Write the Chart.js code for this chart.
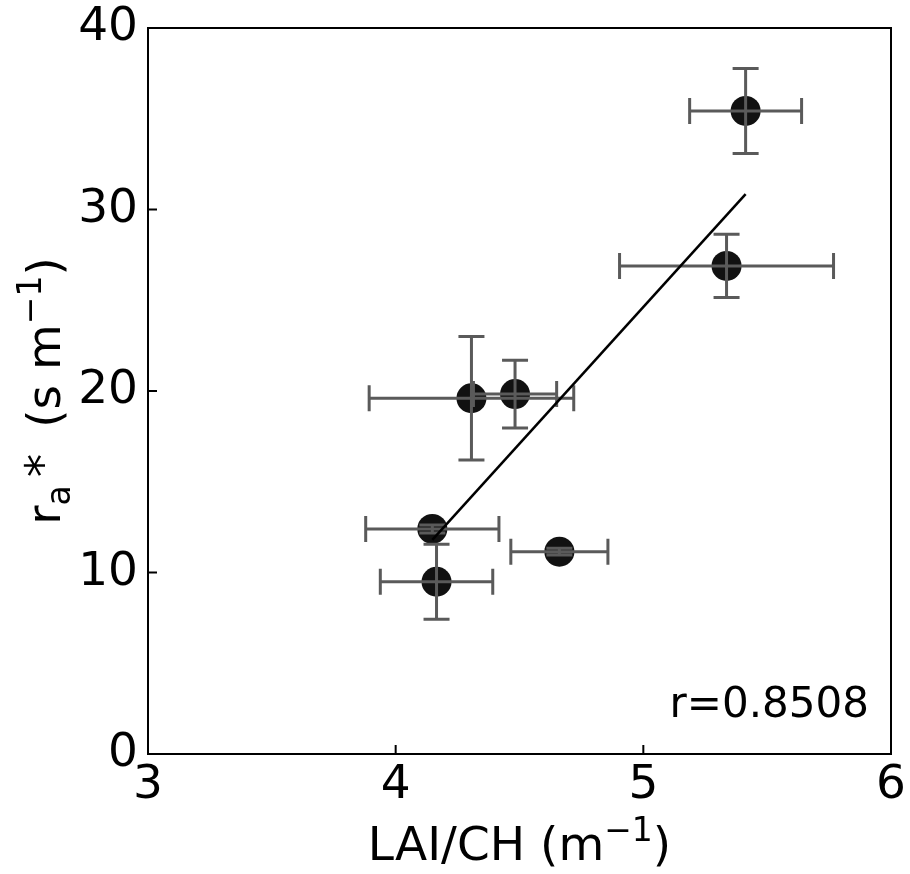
<!DOCTYPE html>
<html lang="en">

<head>
    <meta charset="UTF-8">
    <title>ra* vs LAI/CH</title>
    <script src="https://cdn.jsdelivr.net/npm/chart.js"></script>
    <style>
        body {
            margin: 0;
            background: #fff;
        }

        #wrap {
            width: 910px;
            height: 874px;
        }
    </style>
</head>

<body>
    <div id="wrap">
        <canvas id="scatterChart" width="910" height="874"></canvas>
    </div>

    <script>
        // Values
        const laiCh = [5.413, 5.336, 4.306, 4.482, 4.148, 4.661, 4.165];
        const raStar = [35.43, 26.89, 19.60, 19.83, 12.40, 11.15, 9.49];
        const laiChErr = [0.226, 0.432, 0.413, 0.168, 0.269, 0.196, 0.227];
        const raStarErr = [2.34, 1.74, 3.40, 1.87, 0.22, 0.18, 2.07];

        // regression line end points
        const fitX = [4.148, 5.413];
        const fitY = [11.8, 30.85];

        const xTicks = [3, 4, 5, 6];
        const yTicks = [0, 10, 20, 30, 40];
        const corrText = 'r=0.8508';

        const FONT = '"DejaVu Sans", sans-serif';
        const FS = 47;

        // error bars, inward ticks, frame and labels
        const decorPlugin = {
            id: 'decor',
            afterDatasetDraw(chart, args) {
                if (args.index !== 0) return;
                const ctx = chart.ctx;
                const xs = chart.scales.x, ys = chart.scales.y;
                ctx.save();
                ctx.strokeStyle = '#5a5a5a';
                ctx.lineWidth = 3;
                const cap = 13;
                laiCh.forEach(function (xv, i) {
                    const px = xs.getPixelForValue(xv);
                    const py = ys.getPixelForValue(raStar[i]);
                    const x0 = xs.getPixelForValue(xv - laiChErr[i]);
                    const x1 = xs.getPixelForValue(xv + laiChErr[i]);
                    const y0 = ys.getPixelForValue(raStar[i] - raStarErr[i]);
                    const y1 = ys.getPixelForValue(raStar[i] + raStarErr[i]);
                    ctx.beginPath();
                    ctx.moveTo(x0, py); ctx.lineTo(x1, py);
                    ctx.moveTo(x0, py - cap); ctx.lineTo(x0, py + cap);
                    ctx.moveTo(x1, py - cap); ctx.lineTo(x1, py + cap);
                    ctx.moveTo(px, y0); ctx.lineTo(px, y1);
                    ctx.moveTo(px - cap, y0); ctx.lineTo(px + cap, y0);
                    ctx.moveTo(px - cap, y1); ctx.lineTo(px + cap, y1);
                    ctx.stroke();
                });
                ctx.restore();
            },
            afterDraw(chart) {
                const ctx = chart.ctx;
                const a = chart.chartArea;
                const xs = chart.scales.x, ys = chart.scales.y;
                ctx.save();
                ctx.strokeStyle = '#000';
                ctx.lineWidth = 2;
                ctx.strokeRect(a.left, a.top, a.right - a.left, a.bottom - a.top);

                // inward ticks
                ctx.beginPath();
                xTicks.forEach(function (v) {
                    const p = xs.getPixelForValue(v);
                    ctx.moveTo(p, a.bottom); ctx.lineTo(p, a.bottom - 9);
                });
                yTicks.forEach(function (v) {
                    const p = ys.getPixelForValue(v);
                    ctx.moveTo(a.left, p); ctx.lineTo(a.left + 9, p);
                });
                ctx.stroke();

                ctx.fillStyle = '#000';
                ctx.textBaseline = 'alphabetic';

                // correlation text
                ctx.font = '42px ' + FONT;
                ctx.textAlign = 'right';
                ctx.fillText(corrText, a.right - 22, a.bottom - 37);

                // x axis label: LAI/CH (m^-1)
                const small = Math.round(FS * 0.7);
                ctx.textAlign = 'left';
                const p1 = 'LAI/CH (m', p3 = ')';
                ctx.font = small + 'px ' + FONT;
                const w2 = ctx.measureText('\u22121').width;
                ctx.font = FS + 'px ' + FONT;
                const w1 = ctx.measureText(p1).width, w3 = ctx.measureText(p3).width;
                let x = (a.left + a.right) / 2 - (w1 + w2 + w3) / 2;
                const by = 860;
                ctx.fillText(p1, x, by); x += w1;
                ctx.font = small + 'px ' + FONT;
                ctx.fillText('\u22121', x, by - 19); x += w2;
                ctx.font = FS + 'px ' + FONT;
                ctx.fillText(p3, x, by);

                // y axis label: r_a* (s m^-1), rotated
                ctx.translate(60, (a.top + a.bottom) / 2);
                ctx.rotate(-Math.PI / 2);
                const parts = [
                    { t: 'r', s: FS, dy: 0, gap: 0 },
                    { t: 'a', s: small, dy: 10, gap: 0 },
                    { t: '*', s: FS, dy: -2, gap: 8 },
                    { t: '(s m', s: FS, dy: 0, gap: 26 },
                    { t: '\u22121', s: small, dy: -19, gap: 0 },
                    { t: ')', s: FS, dy: 0, gap: 0 }
                ];
                let total = 0;
                parts.forEach(function (pt) {
                    ctx.font = pt.s + 'px ' + FONT;
                    pt.w = ctx.measureText(pt.t).width;
                    total += pt.w + pt.gap;
                });
                x = -total / 2;
                parts.forEach(function (pt) {
                    ctx.font = pt.s + 'px ' + FONT;
                    x += pt.gap;
                    ctx.fillText(pt.t, x, pt.dy);
                    x += pt.w;
                });
                ctx.restore();
            }
        };

        const ctx = document.getElementById('scatterChart').getContext('2d');

        const pointData = laiCh.map(function (v, i) { return { x: v, y: raStar[i] }; });
        const fitData = fitX.map(function (v, i) { return { x: v, y: fitY[i] }; });

        const scatterChart = new Chart(ctx, {
            type: 'scatter',
            data: {
                datasets: [
                    {
                        label: 'ra*',
                        data: pointData,
                        pointRadius: 15,
                        pointHoverRadius: 15,
                        pointBackgroundColor: '#111111',
                        pointBorderWidth: 0,
                        order: 2
                    },
                    {
                        label: 'fit',
                        type: 'line',
                        data: fitData,
                        borderColor: '#000000',
                        borderWidth: 2.5,
                        pointRadius: 0,
                        fill: false,
                        order: 1
                    }
                ]
            },
            options: {
                responsive: false,
                devicePixelRatio: 1,
                animation: false,
                layout: {
                    padding: { left: 0, top: 28, right: 19, bottom: 0 }
                },
                plugins: {
                    legend: { display: false },
                    tooltip: { enabled: false }
                },
                scales: {
                    x: {
                        type: 'linear',
                        min: 3,
                        max: 6,
                        afterBuildTicks: function (scale) {
                            scale.ticks = xTicks.map(function (v) { return { value: v }; });
                        },
                        afterFit: function (scale) {
                            scale.height = 120;
                            scale.paddingLeft = 0;
                            scale.paddingRight = 0;
                        },
                        grid: { display: false, drawTicks: false },
                        border: { display: false },
                        ticks: {
                            autoSkip: false,
                            maxRotation: 0,
                            padding: 4,
                            color: '#000',
                            font: { family: FONT, size: FS }
                        }
                    },
                    y: {
                        type: 'linear',
                        min: 0,
                        max: 40,
                        afterBuildTicks: function (scale) {
                            scale.ticks = yTicks.map(function (v) { return { value: v }; });
                        },
                        afterFit: function (scale) {
                            scale.width = 148;
                            scale.paddingTop = 0;
                            scale.paddingBottom = 0;
                        },
                        grid: { display: false, drawTicks: false },
                        border: { display: false },
                        ticks: {
                            autoSkip: false,
                            padding: 10,
                            color: '#000',
                            font: { family: FONT, size: FS }
                        }
                    }
                }
            },
            plugins: [decorPlugin]
        });
    </script>

</body>

</html>
